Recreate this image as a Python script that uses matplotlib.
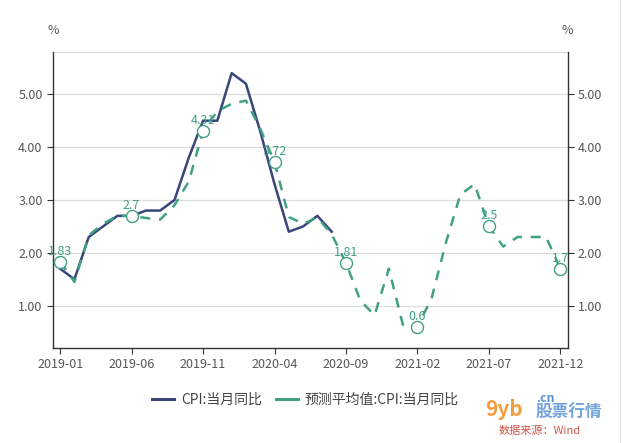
import matplotlib
matplotlib.use('Agg')
import matplotlib.pyplot as plt
from matplotlib.lines import Line2D
import pandas as pd

plt.rcParams['font.family'] = ['Noto Sans CJK SC', 'DejaVu Sans']

# 数据
months = pd.date_range('2019-01', '2021-12', freq='MS').strftime('%Y-%m').tolist()
cpi = [1.7, 1.5, 2.3, 2.5, 2.7, 2.7, 2.8, 2.8, 3.0, 3.8, 4.5, 4.5,
       5.4, 5.2, 4.3, 3.3, 2.4, 2.5, 2.7, 2.4]
forecast = [1.83, 1.45, 2.33, 2.55, 2.70, 2.70, 2.66, 2.63, 2.90, 3.35, 4.31, 4.68,
            4.82, 4.88, 4.35, 3.72, 2.68, 2.55, 2.67, 2.35, 1.81, 1.10, 0.82, 1.70,
            0.62, 0.60, 1.15, 2.20, 3.10, 3.30, 2.50, 2.12, 2.30, 2.30, 2.30, 1.70]
series_names = ['CPI:当月同比', '预测平均值:CPI:当月同比']
label_step = 5

navy = '#38467a'
green = '#41a085'

fig = plt.figure(figsize=(6.23, 4.43), dpi=100)
ax = fig.add_axes([53 / 623, 95 / 443, 514.5 / 623, 296 / 443])

x_cpi = list(range(len(cpi)))
x_fc = list(range(len(forecast)))

ax.plot(x_cpi, cpi, color=navy, lw=1.8, zorder=3)
ax.plot(x_fc, forecast, color=green, lw=1.8, dashes=(4, 3.5), zorder=4)

# 每隔5个月画标记和数值
mk_x = x_fc[::label_step]
mk_y = forecast[::label_step]
ax.scatter(mk_x, mk_y, s=75, facecolor='white', edgecolor=green, lw=1.0, zorder=5)
for xi, yi in zip(mk_x, mk_y):
    ax.annotate('{:g}'.format(yi), (xi, yi), xytext=(0, 3), textcoords='offset points',
                ha='center', va='bottom', fontsize=9, color=green, zorder=6)

ax.set_xlim(-0.5, len(forecast) - 0.5)
ax.set_ylim(0.2, 5.8)
ax.set_xticks(x_fc[::label_step])
ax.set_xticklabels(months[::label_step])
ax.set_yticks([1, 2, 3, 4, 5])
ax.set_yticklabels(['{:.2f}'.format(v) for v in [1, 2, 3, 4, 5]])

ax.grid(axis='y', color='#dcdcdc', lw=0.9)
ax.axhline(5.8, color='#dcdcdc', lw=0.9)
ax.set_axisbelow(True)
ax.spines['top'].set_visible(False)
for s in ['left', 'right', 'bottom']:
    ax.spines[s].set_color('#333333')
    ax.spines[s].set_linewidth(1.0)

ax.tick_params(axis='both', colors='#333333', labelcolor='#555555', labelsize=9,
               length=4, width=0.8)
ax.tick_params(axis='y', right=True, labelright=True)

fig.text(53 / 623, 1 - 30 / 443, '%', ha='center', va='center', fontsize=9, color='#555555')
fig.text(567 / 623, 1 - 30 / 443, '%', ha='center', va='center', fontsize=9, color='#555555')

handles = [Line2D([], [], color=navy, lw=2.2), Line2D([], [], color=green, lw=2.2)]
fig.legend(handles, series_names, loc='center', bbox_to_anchor=(0.49, 1 - 400 / 443),
           ncol=2, frameon=False, fontsize=10, handlelength=1.6, columnspacing=1.0,
           handletextpad=0.5, labelcolor='#444444')

# 右下角水印和数据来源
fig.text(0.778, 1 - 410 / 443, '9yb', fontsize=15, fontweight='bold', color='#f08c1e',
         ha='left', va='center', alpha=0.85)
fig.text(0.86, 1 - 399 / 443, '.cn', fontsize=9, fontweight='bold', color='#3c7fd0',
         ha='left', va='center', alpha=0.85)
fig.text(0.86, 1 - 413 / 443, '股票行情', fontsize=12, fontweight='bold', color='#5b95d8',
         ha='left', va='center', alpha=0.85)
fig.text(0.80, 1 - 431 / 443, '数据来源：Wind', fontsize=8, color='#c0392b',
         ha='left', va='center', alpha=0.85)

fig.add_artist(Line2D([620 / 623, 620 / 623], [0, 1], color='#e6e6e6', lw=1.0))

fig.savefig('out.png', dpi=100)
